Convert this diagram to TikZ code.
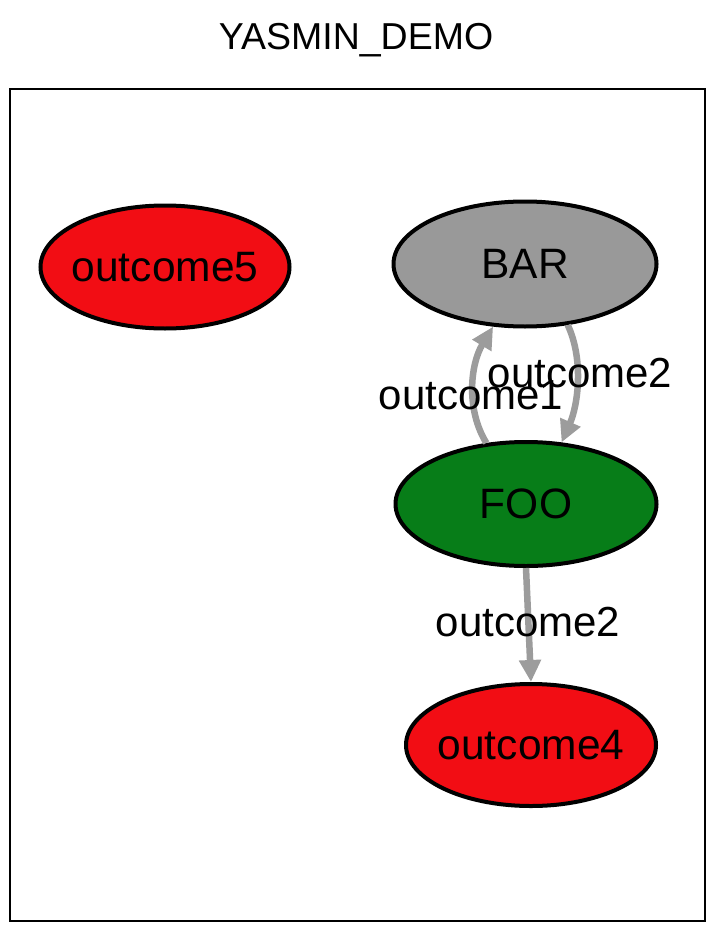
\documentclass[tikz,border=0pt]{standalone}
\usepackage{fontspec}
\setmainfont{Liberation Sans}
\usetikzlibrary{shapes.geometric,arrows.meta}
\definecolor{nodered}{HTML}{F20D14}
\definecolor{nodegray}{HTML}{999999}
\definecolor{nodegreen}{HTML}{077D18}
\definecolor{edgegray}{HTML}{9C9C9C}
\begin{document}
\begin{tikzpicture}[x=1pt,y=-1pt,
  state/.style={ellipse,draw=black,line width=4pt,inner sep=-30pt,
    font=\fontsize{42.5}{50}\selectfont},
  trans/.style={draw=edgegray,line width=6.5pt,
    -{Triangle[length=22pt,width=21pt]}},
  lbl/.style={font=\fontsize{42}{50}\selectfont,inner sep=0pt}]
\useasboundingbox (0,0) rectangle (720,936);
\fill[white] (0,0) rectangle (720,936);
\node[font=\fontsize{37.5}{45}\selectfont] (title) at (356,40) {YASMIN\_DEMO};
\draw[line width=1.6pt] (10,89) rectangle (705,921);
\node[state,fill=nodered,minimum width=249pt,minimum height=123pt] (o5) at (165,267) {outcome5};
\node[state,fill=nodegray,minimum width=263pt,minimum height=125pt] (bar) at (525,264) {BAR};
\node[state,fill=nodegreen,minimum width=261pt,minimum height=124pt] (foo) at (526,504) {FOO};
\node[state,fill=nodered,minimum width=250pt,minimum height=122pt] (o4) at (531,745) {outcome4};
\draw[trans] (foo.123) .. controls (466,410) and (470,365) .. (bar.243);
\draw[trans] (bar.305) .. controls (584,360) and (578,405) .. (foo.60);
\draw[trans] (foo.south) -- (o4.north);
\node[lbl] (l1) at (471,395) {outcome1};
\node[lbl] (l2) at (580,373) {outcome2};
\node[lbl] (l3) at (528,622) {outcome2};
\end{tikzpicture}
\end{document}
